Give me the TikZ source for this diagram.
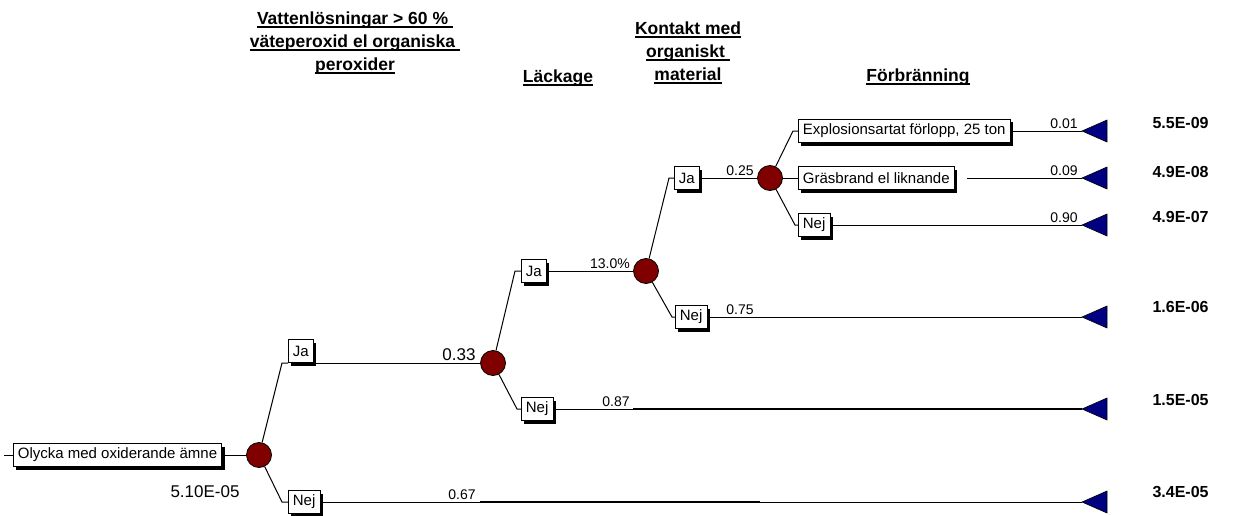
\documentclass[tikz,border=0pt]{standalone}
\usepackage{fontspec}
\setmainfont{Liberation Sans}
\usetikzlibrary{shadows}
\definecolor{chancered}{RGB}{128,0,0}
\definecolor{endblue}{RGB}{0,0,128}
\newcommand{\hul}[1]{\setbox0=\hbox{#1}\rlap{\rule[-3.5pt]{\wd0}{1.8pt}}\box0}
\begin{document}
\begin{tikzpicture}[x=1pt,y=-1pt,line width=1pt,
  box/.style={draw=black,fill=white,line width=0.8pt,inner xsep=4.5pt,inner ysep=0pt,
    minimum height=23pt,font=\fontsize{15}{17}\selectfont,
    drop shadow={shadow xshift=3pt,shadow yshift=-3pt,fill=black,opacity=1}},
  chance/.style={circle,draw=black,fill=chancered,minimum size=25pt,inner sep=0pt,line width=0.8pt},
  prob/.style={anchor=south,inner sep=1pt,font=\fontsize{14}{16}\selectfont},
  result/.style={anchor=west,inner sep=0pt,font=\fontsize{16}{18}\selectfont\bfseries},
  head/.style={align=center,font=\fontsize{17.5}{23}\selectfont\bfseries}]
\useasboundingbox[fill=white] (0,0) rectangle (1241,516);
% headers
\node[head] (hdA) at (355,43) {\hul{Vattenlösningar > 60 \%\ }\\\hul{väteperoxid el organiska\ }\\\hul{peroxider}};
\node[head] (hdB) at (558,78) {\hul{Läckage}};
\node[head] (hdC) at (688,53) {\hul{Kontakt med}\\\hul{organiskt\ }\\\hul{material}};
\node[head] (hdD) at (918,77) {\hul{Förbränning}};
% nodes
\coordinate (start) at (4,455);
\node[box,anchor=west] (root) at (13,455) {Olycka med oxiderande ämne};
\node[chance] (c1) at (259,455) {};
\coordinate (k1) at (282,363);
\coordinate (k2) at (282,502);
\node[box,anchor=south west] (ja1) at (288,363) {Ja};
\node[box,anchor=west] (nej1) at (288,502) {Nej};
\node[chance] (c2) at (493,363) {};
\coordinate (k3) at (515,271);
\coordinate (k4) at (517,409);
\node[box,anchor=west] (ja2) at (521,271) {Ja};
\node[box,anchor=west] (nej2) at (521,409) {Nej};
\node[chance] (c3) at (646,271) {};
\coordinate (k5) at (669,178);
\coordinate (k6) at (672,317);
\node[box,anchor=west] (ja3) at (674,178) {Ja};
\node[box,anchor=west] (nej3) at (675,317) {Nej};
\node[chance] (c4) at (770,178) {};
\coordinate (k7) at (793,131);
\coordinate (k9) at (795,225);
\node[box,anchor=west] (expl) at (798,131) {Explosionsartat förlopp, 25 ton};
\node[box,anchor=west] (gras) at (798,178) {Gräsbrand el liknande};
\node[box,anchor=west] (nej4) at (798,225) {Nej};
% end points
\foreach \n/\y in {1/131,2/178,3/225,4/317,5/409,6/502}
  \coordinate (t\n) at (1082,\y);
\coordinate (w5) at (633,409);
\coordinate (w6a) at (480,502);
\coordinate (w6b) at (760,502);
% branches
\draw (start) -- (root);
\draw (root) -- (c1);
\draw (c1) -- (k1) -- (ja1.south west);
\draw (ja1.south east) -- (c2);
\draw (c1) -- (k2) -- (nej1);
\draw (nej1) -- (t6);
\draw[line width=2pt] (w6a) -- (w6b);
\draw (c2) -- (k3) -- (ja2);
\draw (ja2) -- (c3);
\draw (c2) -- (k4) -- (nej2);
\draw (nej2) -- (t5);
\draw[line width=2pt] (w5) -- (t5);
\draw (c3) -- (k5) -- (ja3);
\draw (ja3) -- (c4);
\draw (c3) -- (k6) -- (nej3);
\draw (nej3) -- (t4);
\draw (c4) -- (k7) -- (expl);
\draw (expl) -- (t1);
\draw (c4) -- (gras);
\draw[shorten <=12pt] (gras) -- (t2);
\draw (c4) -- (k9) -- (nej4);
\draw (nej4) -- (t3);
\foreach \n in {1,...,6}
  \filldraw[fill=endblue,draw=black,line width=0.6pt] (t\n) -- ++(25,-11) -- ++(0,22) -- cycle;
% probabilities
\node[font=\fontsize{17}{19}\selectfont] (rootval) at (205,492) {5.10E-05};
\node[prob,font=\fontsize{17}{19}\selectfont] (p033) at (459,362) {0.33};
\node[prob] (p067) at (462,501) {0.67};
\node[prob] (p130) at (610,270) {13.0\%};
\node[prob] (p087) at (616,408) {0.87};
\node[prob] (p025) at (740,177) {0.25};
\node[prob] (p075) at (740,316) {0.75};
\node[prob] (p001) at (1064,130) {0.01};
\node[prob] (p009) at (1064,177) {0.09};
\node[prob] (p090) at (1064,224) {0.90};
% results
\node[result] (r1) at (1152,123) {5.5E-09};
\node[result] (r2) at (1152,172) {4.9E-08};
\node[result] (r3) at (1152,217) {4.9E-07};
\node[result] (r4) at (1152,307) {1.6E-06};
\node[result] (r5) at (1152,400) {1.5E-05};
\node[result] (r6) at (1152,492) {3.4E-05};
\end{tikzpicture}
\end{document}
